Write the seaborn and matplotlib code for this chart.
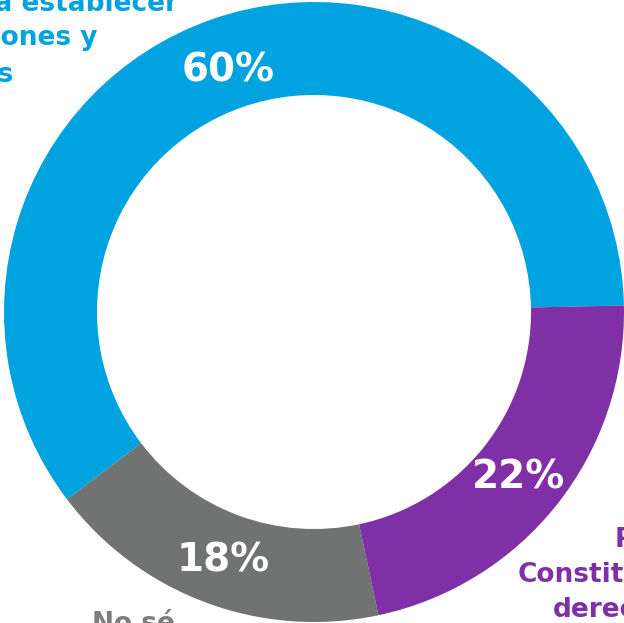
import matplotlib

matplotlib.use("Agg")
import matplotlib.pyplot as plt
import matplotlib.transforms as mtransforms
import seaborn as sns

# data (ring order: counter-clockwise from 3 o'clock)
categories = ["Para establecer relaciones y amistades", "No sé", "Para Constituir derechos"]
shares = [60, 18, 22]
colors = ["#00a3df", "#717272", "#7f30a6"]

blue_lines = ["Para establecer", "relaciones y", "amistades"]
purple_lines = ["Para", "Constituir", "derechos"]
gray_lines = ["No sé"]

sns.set_theme(style="white")
plt.rcParams["font.family"] = ["DejaVu Sans"]

fig = plt.figure(figsize=(6.24, 6.23), dpi=100)
ax = fig.add_axes([0, 0, 1, 1])

# ring centre sits at (314, 312) px, radius 310 px; the reference is a crop
cx, cy, r = 314, 312, 310
_, _, pct_texts = ax.pie(
    shares,
    colors=colors,
    startangle=1.2,
    counterclock=True,
    radius=1,
    wedgeprops=dict(width=0.3, linewidth=0),
    pctdistance=0.84,
    autopct=lambda p: f"{p:.0f}%",
    textprops=dict(color="white", fontweight="bold", fontsize=28),
)
# nudge the percentages down a little, as in the reference
shift = mtransforms.offset_copy(ax.transData, fig=fig, x=0, y=-4, units="dots")
for t in pct_texts:
    t.set_transform(shift)

ax.set_xlim(-cx / r, (624 - cx) / r)
ax.set_ylim(-(623 - cy) / r, cy / r)
ax.set_aspect("equal")
ax.axis("off")


def px(x, y):
    return x / 624, 1 - y / 623


label_kw = dict(fontsize=19, fontweight="bold", transform=fig.transFigure, va="baseline")

# blue label: lines right-aligned at their visible ends, cut by the left edge
for line, right, base in zip(blue_lines, [178, 97, 14], [11, 45, 82]):
    ax.text(*px(right, base), line, ha="right", color=colors[0], **label_kw)

for line, left, base in zip(purple_lines, [615, 518, 553], [547, 582, 617]):
    ax.text(*px(left, base), line, ha="left", color=colors[2], **label_kw)

for line, left, base in zip(gray_lines, [92], [631]):
    ax.text(*px(left, base), line, ha="left", color="#7d7d7d", **label_kw)

fig.savefig("out.png", dpi=100)
plt.close(fig)
